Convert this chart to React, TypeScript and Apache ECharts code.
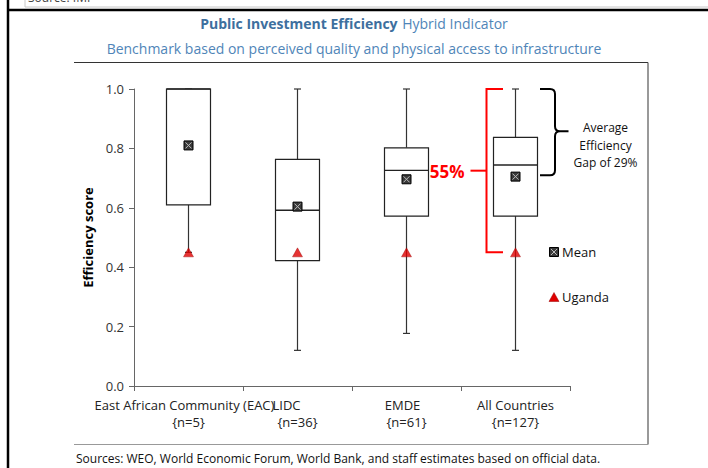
import React, { useEffect, useRef } from "react";
import * as echarts from "echarts";

const categories = ["East African Community (EAC)", "LIDC", "EMDE", "All Countries"];
const counts = ["{n=5}", "{n=36}", "{n=61}", "{n=127}"];
// [min, Q1, median, Q3, max]
const boxStats = [
  [0.45, 0.61, 1.0, 1.0, 1.0],
  [0.12, 0.422, 0.592, 0.763, 1.0],
  [0.177, 0.572, 0.726, 0.802, 1.0],
  [0.12, 0.572, 0.744, 0.837, 1.0],
];
const means = [0.81, 0.604, 0.696, 0.705];
const uganda = [0.45, 0.45, 0.45, 0.45];
const yTicks = [0, 0.2, 0.4, 0.6, 0.8, 1.0];
// annotation values (All Countries)
const gapTop = 1.0;
const gapBottom = 0.45;
const gapLabel = "55%";
const braceBottom = 0.71;
const braceLabel = "Average\nEfficiency\nGap of 29%";

const FONT = "'Open Sans', 'Noto Sans', sans-serif";

export default function App() {
  const ref = useRef<HTMLDivElement>(null);
  useEffect(() => {
    const chart = echarts.init(ref.current!, null, { renderer: "svg" });
    chart.setOption({
      animation: false,
      textStyle: { fontFamily: FONT },
      title: [
        {
          text: "{b|Public Investment Efficiency} {n|Hybrid Indicator}",
          left: "center",
          top: 9,
          textStyle: {
            rich: {
              b: { fontFamily: FONT, fontWeight: "bold", fontSize: 14, color: "#3d6f9e" },
              n: { fontFamily: FONT, fontWeight: "normal", fontSize: 14, color: "#4f85b8" },
            },
          },
        },
        {
          text: "Benchmark based on perceived quality and physical access to infrastructure",
          left: "center",
          top: 36,
          textStyle: { fontFamily: FONT, fontWeight: "normal", fontSize: 14, color: "#4f85b8" },
        },
      ],
      grid: { left: 134, right: 138, top: 89, bottom: 82 },
      xAxis: {
        type: "category",
        data: categories,
        axisLine: { lineStyle: { color: "#666", width: 1 } },
        axisTick: { show: true, length: 5, lineStyle: { color: "#666" } },
        axisLabel: {
          interval: 0,
          margin: 10,
          color: "#222",
          fontSize: 13,
          lineHeight: 17,
          formatter: (v: string, i: number) => `{a${i}|${v}}\n${counts[i]}`,
          rich: {
            a0: { fontSize: 13, color: "#222", padding: [0, 8, 0, 0], fontFamily: FONT },
            a1: { fontSize: 13, color: "#222", padding: [0, 22, 0, 0], fontFamily: FONT },
            a2: { fontSize: 13, color: "#222", padding: [0, 8, 0, 0], fontFamily: FONT },
            a3: { fontSize: 13, color: "#222", padding: [0, 0, 0, 0], fontFamily: FONT },
          },
        },
      },
      yAxis: {
        type: "value",
        min: 0,
        max: 1,
        interval: 0.2,
        name: "Efficiency score",
        nameLocation: "middle",
        nameGap: 40,
        nameTextStyle: { fontWeight: "bold", fontSize: 13, color: "#000", fontFamily: FONT },
        axisLine: { show: true, lineStyle: { color: "#666" } },
        axisTick: { show: true, length: 5, lineStyle: { color: "#666" } },
        splitLine: { show: false },
        axisLabel: {
          color: "#333",
          fontSize: 13,
          margin: 10,
          formatter: (v: number) => (yTicks.some((t) => Math.abs(t - v) < 1e-6) ? v.toFixed(1) : ""),
        },
      },
      series: [
        {
          type: "custom",
          name: "box",
          z: 2,
          data: boxStats.map((s, i) => [i, ...s]),
          renderItem: (params: any, api: any) => {
            const x = api.value(0);
            const pMin = api.coord([x, api.value(1)]);
            const pQ1 = api.coord([x, api.value(2)]);
            const pMed = api.coord([x, api.value(3)]);
            const pQ3 = api.coord([x, api.value(4)]);
            const pMax = api.coord([x, api.value(5)]);
            const cx = pMin[0];
            const hw = 22;
            const cap = 3.5;
            const ls = { stroke: "#333", lineWidth: 1.2 };
            return {
              type: "group",
              children: [
                { type: "line", shape: { x1: cx, y1: pMax[1], x2: cx, y2: pQ3[1] }, style: ls },
                { type: "line", shape: { x1: cx, y1: pMin[1], x2: cx, y2: pQ1[1] }, style: ls },
                { type: "line", shape: { x1: cx - cap, y1: pMax[1], x2: cx + cap, y2: pMax[1] }, style: ls },
                { type: "line", shape: { x1: cx - cap, y1: pMin[1], x2: cx + cap, y2: pMin[1] }, style: ls },
                {
                  type: "rect",
                  shape: { x: cx - hw, y: pQ3[1], width: hw * 2, height: pQ1[1] - pQ3[1] },
                  style: { fill: "#fff", stroke: "#222", lineWidth: 1.2 },
                },
                { type: "line", shape: { x1: cx - hw, y1: pMed[1], x2: cx + hw, y2: pMed[1] }, style: { stroke: "#222", lineWidth: 1.4 } },
              ],
            };
          },
        },
        {
          type: "custom",
          name: "Mean",
          z: 3,
          data: means.map((m, i) => [i, m]),
          renderItem: (params: any, api: any) => {
            const p = api.coord([api.value(0), api.value(1)]);
            const s = 4.5;
            return {
              type: "group",
              children: [
                { type: "rect", shape: { x: p[0] - s, y: p[1] - s, width: 2 * s, height: 2 * s }, style: { fill: "#3a3a3a", stroke: "#000", lineWidth: 1 } },
                { type: "line", shape: { x1: p[0] - s + 1.5, y1: p[1] - s + 1.5, x2: p[0] + s - 1.5, y2: p[1] + s - 1.5 }, style: { stroke: "#bbb", lineWidth: 1 } },
                { type: "line", shape: { x1: p[0] - s + 1.5, y1: p[1] + s - 1.5, x2: p[0] + s - 1.5, y2: p[1] - s + 1.5 }, style: { stroke: "#bbb", lineWidth: 1 } },
              ],
            };
          },
        },
        {
          type: "scatter",
          name: "Uganda",
          z: 4,
          symbol: "triangle",
          symbolSize: [10, 9],
          itemStyle: { color: "#e00000", borderColor: "#900", borderWidth: 0.5 },
          data: uganda.map((u, i) => [i, u]),
        },
        {
          type: "custom",
          name: "annotations",
          z: 5,
          data: [[3, gapTop, gapBottom, braceBottom]],
          renderItem: (params: any, api: any) => {
            const x = api.value(0);
            const top = api.coord([x, api.value(1)]);
            const bot = api.coord([x, api.value(2)]);
            const bb = api.coord([x, api.value(3)]);
            const cx = top[0];
            const bx = cx - 29;
            const armEnd = cx - 12.5;
            const midY = (top[1] + bot[1]) / 2;
            const red = { stroke: "#ff0000", lineWidth: 2, fill: "none" };
            // brace
            const x0 = cx + 24.5;
            const xv = cx + 39.5;
            const xt = cx + 53;
            const yt = top[1];
            const yb = bb[1];
            const ym = yt + (yb - yt) * 0.49;
            const r = 5;
            const d =
              `M${x0},${yt} L${xv - r},${yt} Q${xv},${yt} ${xv},${yt + r} L${xv},${ym - r} Q${xv},${ym} ${xv + r},${ym} L${xt},${ym} ` +
              `M${xv + r},${ym} Q${xv},${ym} ${xv},${ym + r} L${xv},${yb - r} Q${xv},${yb} ${xv - r},${yb} L${x0},${yb}`;
            return {
              type: "group",
              children: [
                { type: "polyline", shape: { points: [[armEnd, top[1]], [bx, top[1]], [bx, bot[1]], [armEnd, bot[1]]] }, style: red },
                { type: "line", shape: { x1: bx - 16, y1: midY, x2: bx, y2: midY }, style: red },
                {
                  type: "text",
                  style: {
                    text: gapLabel,
                    x: bx - 22,
                    y: midY + 1,
                    align: "right",
                    verticalAlign: "middle",
                    fill: "#ff0000",
                    font: `bold 17px ${FONT}`,
                  },
                },
                { type: "path", shape: { pathData: d }, style: { stroke: "#000", lineWidth: 2, fill: "none" } },
                {
                  type: "text",
                  style: {
                    text: braceLabel,
                    x: cx + 90,
                    y: ym + 14,
                    align: "center",
                    verticalAlign: "middle",
                    fill: "#111",
                    font: `12px ${FONT}`,
                    lineHeight: 17.5,
                  },
                },
              ],
            };
          },
        },
      ],
      graphic: [
        // outer frame
        { type: "line", shape: { x1: 8, y1: 0, x2: 8, y2: 468 }, style: { stroke: "#000", lineWidth: 2.5 } },
        { type: "line", shape: { x1: 8, y1: 10, x2: 708, y2: 10 }, style: { stroke: "#000", lineWidth: 2.5 } },
        { type: "line", shape: { x1: 25, y1: 7, x2: 708, y2: 7 }, style: { stroke: "#c8c8c8", lineWidth: 1 } },
        { type: "line", shape: { x1: 25, y1: 0, x2: 25, y2: 7 }, style: { stroke: "#c8c8c8", lineWidth: 1 } },
        { type: "text", x: 28, y: -9, style: { text: "Source: IMF", fill: "#444", font: `12px ${FONT}` } },
        // inner box
        { type: "line", shape: { x1: 74, y1: 62.5, x2: 648, y2: 62.5 }, style: { stroke: "#333", lineWidth: 1.2 } },
        { type: "line", shape: { x1: 648, y1: 62.5, x2: 648, y2: 444.5 }, style: { stroke: "#555", lineWidth: 1.2 } },
        { type: "line", shape: { x1: 74, y1: 444.5, x2: 648, y2: 444.5 }, style: { stroke: "#999", lineWidth: 1.2 } },
        // legend
        {
          type: "group",
          x: 554,
          y: 252,
          children: [
            { type: "rect", shape: { x: -4.5, y: -4.5, width: 9, height: 9 }, style: { fill: "#3a3a3a", stroke: "#000", lineWidth: 1 } },
            { type: "line", shape: { x1: -3, y1: -3, x2: 3, y2: 3 }, style: { stroke: "#bbb", lineWidth: 1 } },
            { type: "line", shape: { x1: -3, y1: 3, x2: 3, y2: -3 }, style: { stroke: "#bbb", lineWidth: 1 } },
          ],
        },
        { type: "text", x: 562, y: 252, style: { text: "Mean", fill: "#111", font: `13px ${FONT}`, verticalAlign: "middle" } },
        { type: "polygon", shape: { points: [[554, 292.5], [559, 301.5], [549, 301.5]] }, style: { fill: "#e00000", stroke: "#900", lineWidth: 0.5 } },
        { type: "text", x: 562, y: 297, style: { text: "Uganda", fill: "#111", font: `13px ${FONT}`, verticalAlign: "middle" } },
        // sources
        {
          type: "text",
          x: 76,
          y: 458,
          style: {
            text: "Sources: WEO, World Economic Forum, World Bank, and staff estimates based on official data.",
            fill: "#111",
            font: `12px ${FONT}`,
            verticalAlign: "middle",
          },
        },
      ],
    });
    return () => chart.dispose();
  }, []);
  return (
    <div
      ref={ref}
      style={{ position: "fixed", left: 0, top: 0, width: 708, height: 468, background: "#fff" }}
    />
  );
}
